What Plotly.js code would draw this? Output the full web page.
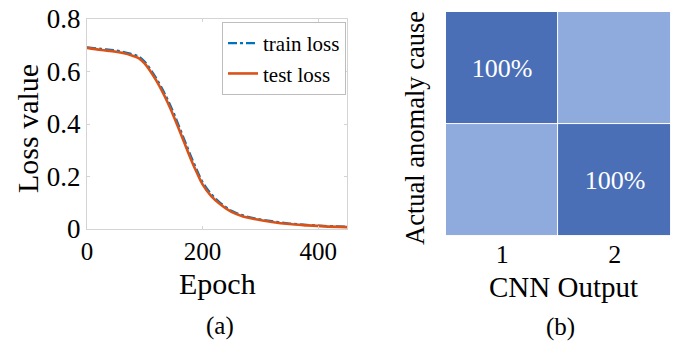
<!DOCTYPE html>
<html>
<head>
<meta charset="utf-8">
<script src="https://cdn.plot.ly/plotly-3.0.1.min.js"></script>
<style>html,body{margin:0;padding:0;background:#fff;}#chart{width:677px;height:341px;}</style>
</head>
<body>
<div id="chart"></div>
<script>
// ---- data (a): loss curves ----
const epochs    = [0, 25, 50, 75, 90, 100, 110, 120, 130, 140, 150, 160, 170, 180, 190, 200, 215, 230, 250, 270, 290, 320, 350, 380, 410, 450];
const testLoss  = [0.690, 0.682, 0.675, 0.663, 0.650, 0.630, 0.600, 0.565, 0.525, 0.480, 0.430, 0.375, 0.320, 0.265, 0.215, 0.170, 0.125, 0.095, 0.065, 0.048, 0.038, 0.027, 0.019, 0.014, 0.010, 0.007];
const trainLoss = [0.692, 0.686, 0.680, 0.668, 0.656, 0.637, 0.608, 0.574, 0.535, 0.491, 0.442, 0.387, 0.332, 0.277, 0.226, 0.179, 0.133, 0.101, 0.070, 0.052, 0.041, 0.030, 0.021, 0.016, 0.012, 0.009];
const seriesNames = ["train loss", "test loss"];

// ---- data (b): confusion matrix ----
const cnnOutput = ["1", "2"];
const actualCause = ["1", "2"];
const confusion = [[1, 0], [0, 1]];
const cellText = [["100%", ""], ["", "100%"]];

const serif = "Liberation Serif";
const frame = "#d4d4d4";
const ink = "#000000";

const traces = [
  {x: epochs, y: trainLoss, name: seriesNames[0], type: "scatter", mode: "lines",
   line: {color: "#0072BD", width: 2.2, dash: "dashdot", shape: "spline"}, xaxis: "x", yaxis: "y"},
  {x: epochs, y: testLoss, name: seriesNames[1], type: "scatter", mode: "lines",
   line: {color: "#D95319", width: 2.6, shape: "spline"}, xaxis: "x", yaxis: "y"},
  {x: cnnOutput, y: actualCause, z: confusion, type: "heatmap", text: cellText,
   texttemplate: "%{text}", textfont: {color: "#ffffff", size: 26, family: serif},
   colorscale: [[0, "#8faadc"], [1, "#4a6fb6"]], showscale: false, xgap: 1, ygap: 1,
   hoverinfo: "skip", xaxis: "x2", yaxis: "y2"}
];

const layout = {
  width: 677, height: 341,
  margin: {l: 0, r: 0, t: 0, b: 0},
  paper_bgcolor: "#ffffff", plot_bgcolor: "#ffffff",
  font: {family: serif, color: ink},
  showlegend: true,
  legend: {x: 222/677, y: 1 - 22/341, xanchor: "left", yanchor: "top",
           bordercolor: "#bdbdbd", borderwidth: 1, bgcolor: "#ffffff",
           font: {size: 21, family: serif, color: ink}, itemwidth: 30, tracegroupgap: 0},
  xaxis: {domain: [0.1285, 0.5126], range: [0, 450], tickvals: [0, 200, 400],
          showline: true, mirror: "ticks", linecolor: frame, linewidth: 1,
          ticks: "inside", ticklen: 3, tickcolor: frame, showgrid: false, zeroline: false,
          tickfont: {size: 25, family: serif, color: ink}, anchor: "y"},
  yaxis: {domain: [0.3284, 0.9443], range: [0, 0.8], tickvals: [0, 0.2, 0.4, 0.6, 0.8],
          ticktext: ["0", "0.2", "0.4", "0.6", "0.8"],
          showline: true, mirror: "ticks", linecolor: frame, linewidth: 1,
          ticks: "inside", ticklen: 3, tickcolor: frame, showgrid: false, zeroline: false,
          tickfont: {size: 27, family: serif, color: ink}, anchor: "x"},
  xaxis2: {domain: [0.6588, 0.9911], type: "category", showline: false, showgrid: false,
           zeroline: false, ticks: "", tickfont: {size: 26, family: serif, color: ink}, anchor: "y2"},
  yaxis2: {domain: [0.3079, 0.9648], type: "category", autorange: "reversed",
           showline: false, showgrid: false, zeroline: false, showticklabels: false,
           ticks: "", anchor: "x2"},
  annotations: [
    {text: "Loss value", xref: "paper", yref: "paper", x: 27/677, y: 1 - 129/341,
     xanchor: "center", yanchor: "middle", textangle: -90, showarrow: false,
     font: {size: 30, family: serif, color: ink}},
    {text: "Epoch", xref: "paper", yref: "paper", x: 217/677, y: 1 - 283/341,
     xanchor: "center", yanchor: "middle", showarrow: false,
     font: {size: 30, family: serif, color: ink}},
    {text: "(a)", xref: "paper", yref: "paper", x: 220/677, y: 1 - 326/341,
     xanchor: "center", yanchor: "middle", showarrow: false,
     font: {size: 25, family: serif, color: ink}},
    {text: "Actual anomaly cause", xref: "paper", yref: "paper", x: 415/677, y: 1 - 128/341,
     xanchor: "center", yanchor: "middle", textangle: -90, showarrow: false,
     font: {size: 26.5, family: serif, color: ink}},
    {text: "CNN Output", xref: "paper", yref: "paper", x: 563/677, y: 1 - 287/341,
     xanchor: "center", yanchor: "middle", showarrow: false,
     font: {size: 29, family: serif, color: ink}},
    {text: "(b)", xref: "paper", yref: "paper", x: 560/677, y: 1 - 327/341,
     xanchor: "center", yanchor: "middle", showarrow: false,
     font: {size: 25, family: serif, color: ink}}
  ]
};

Plotly.newPlot("chart", traces, layout, {displayModeBar: false, staticPlot: true});
</script>
</body>
</html>
